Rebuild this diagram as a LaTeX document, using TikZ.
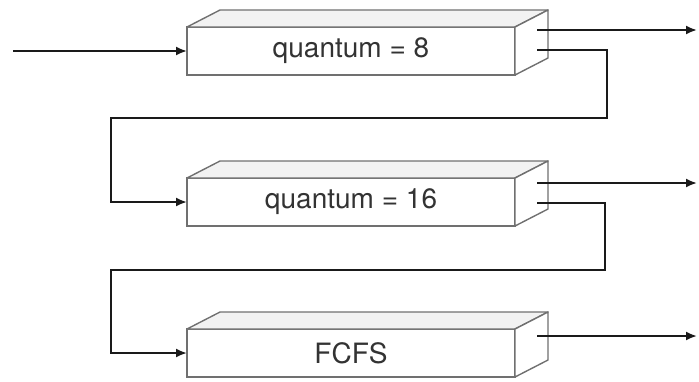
\documentclass[tikz,border=0pt]{standalone}
\usepackage{fontspec}
\setmainfont{TeX Gyre Heros}
\usetikzlibrary{arrows.meta,positioning,calc}
\definecolor{ink}{HTML}{1A1A1A}
\definecolor{edge}{HTML}{707070}
\definecolor{lid}{HTML}{F2F2F2}
\definecolor{label}{HTML}{333333}

\begin{document}
\begin{tikzpicture}[x=0.5pt,y=-0.5pt,>=Latex,
    queue/.style={draw=edge,fill=white,line width=0.7pt,minimum width=164pt,
                  minimum height=24pt,inner sep=0pt,outer sep=0pt,
                  font=\fontsize{14}{16}\selectfont,text=label},
    face/.style={draw=edge,line width=0.7pt,line join=round},
    flow/.style={ink,line width=1pt,-{Latex[length=5.5pt,width=4.5pt]}}]
  \useasboundingbox (0,0) rectangle (699,381);
  \node[queue] (q1) at (351,51) {quantum = 8};
  \node[queue,below=51.5pt of q1] (q2) {quantum = 16};
  \node[queue,below=51.5pt of q2] (q3) {FCFS};
  % lid and side of each queue
  \foreach \q in {q1,q2,q3}{
    \draw[face,fill=lid] (\q.north west) -- ++(16.5pt,8.5pt)
      -- ($(\q.north east)+(16.5pt,8.5pt)$) -- (\q.north east) -- cycle;
    \draw[face,fill=white] (\q.north east) -- ++(16.5pt,8.5pt)
      -- ++(0pt,-24pt) -- (\q.south east) -- cycle;
  }
  \coordinate (in) at (13,51);
  \coordinate (xr) at (697,0);
  \coordinate (q1o) at ($(q1.north east)+(11pt,-1.5pt)$);
  \coordinate (q2o) at ($(q2.north east)+(11pt,-2.5pt)$);
  \coordinate (q3o) at ($(q3.north east)+(11pt,-3.5pt)$);
  \coordinate (q1f) at ($(q1.north east)+(11pt,-11.5pt)$);
  \coordinate (q2f) at ($(q2.north east)+(11pt,-12.5pt)$);
  \coordinate (r1) at (607,118);
  \coordinate (l1) at (111,118);
  \coordinate (r2) at (605,270);
  \coordinate (l2) at (111,270);
  % arrows
  \draw[flow] (in) -- (q1.west);
  \foreach \q in {q1,q2,q3}
    \draw[flow] (\q o) -- (\q o -| xr);
  \draw[flow] (q1f) -| (r1) -- (l1) |- (q2.west);
  \draw[flow] (q2f) -| (r2) -- (l2) |- (q3.west);
\end{tikzpicture}
\end{document}
